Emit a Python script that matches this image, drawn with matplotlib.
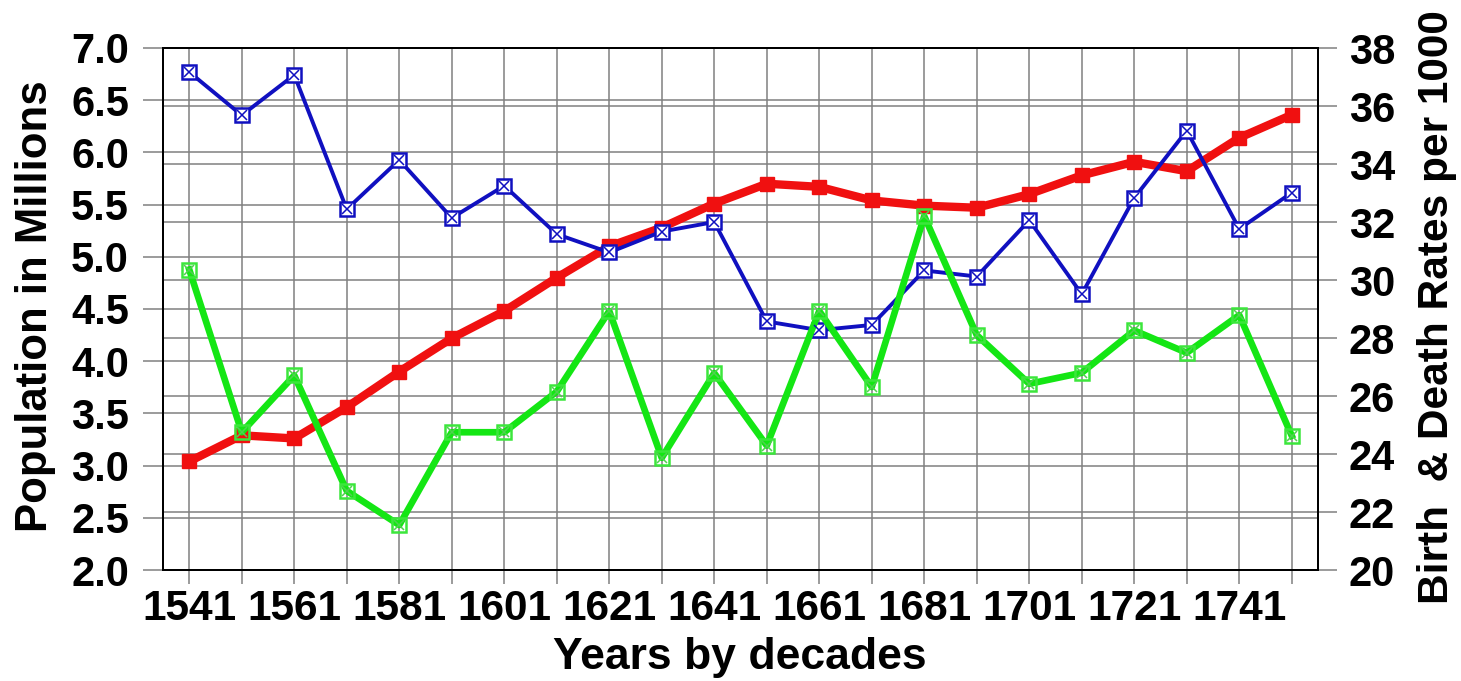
import matplotlib.pyplot as plt

years = [1541, 1551, 1561, 1571, 1581, 1591, 1601, 1611, 1621, 1631, 1641,
         1651, 1661, 1671, 1681, 1691, 1701, 1711, 1721, 1731, 1741, 1751]
year_labels = ['1541', '', '1561', '', '1581', '', '1601', '', '1621', '', '1641',
               '', '1661', '', '1681', '', '1701', '', '1721', '', '1741', '']

population = [3.04, 3.29, 3.26, 3.56, 3.90, 4.22, 4.48, 4.80, 5.10, 5.28, 5.51,
              5.70, 5.67, 5.54, 5.49, 5.47, 5.60, 5.78, 5.91, 5.82, 6.14, 6.36]
birth_rate = [37.17, 35.68, 37.07, 32.44, 34.14, 32.14, 33.25, 31.58, 30.95, 31.67, 32.00,
              28.57, 28.27, 28.45, 30.33, 30.12, 32.06, 29.51, 32.83, 35.15, 31.76, 33.01]
death_rate = [30.36, 24.75, 26.71, 22.73, 21.55, 24.75, 24.75, 26.15, 28.93, 23.87, 26.79,
              24.29, 28.93, 26.31, 32.20, 28.10, 26.42, 26.80, 28.26, 27.49, 28.79, 24.63]

left_ticks = [2.0, 2.5, 3.0, 3.5, 4.0, 4.5, 5.0, 5.5, 6.0, 6.5, 7.0]
right_ticks = [20, 22, 24, 26, 28, 30, 32, 34, 36, 38]

plt.rcParams['font.family'] = ['Liberation Sans', 'DejaVu Sans']
plt.rcParams['font.weight'] = 'bold'

GRID = '#808080'
RED = '#F01010'
BLUE = '#1010C0'
GREEN = '#14E614'

fig = plt.figure(figsize=(14.61, 6.81), dpi=100)
ax1 = fig.add_axes([163 / 1461, 1 - 570 / 681, 1155 / 1461, 522 / 681])
ax2 = ax1.twinx()

ax1.set_xlim(1536, 1756)
ax1.set_ylim(2.0, 7.0)
ax2.set_ylim(20, 38)

# x ticks at every decade, labels every 20 years
ax1.set_xticks(years)
ax1.set_xticklabels(year_labels)
ax1.set_yticks(left_ticks)
ax1.set_yticklabels([f'{v:.1f}' for v in left_ticks])
ax2.set_yticks(right_ticks)
ax2.set_yticklabels([str(v) for v in right_ticks])

# right-axis grid lines drawn on ax1 so they sit under everything
def r2l(r):
    return 2.0 + (r - 20) * 5.0 / 18.0

ax1.set_yticks([r2l(r) for r in right_ticks], minor=True)
ax1.tick_params(axis='y', which='minor', length=0)
ax1.grid(True, which='both', color=GRID, linewidth=1.1)
ax1.set_axisbelow(True)

ax1.tick_params(axis='y', which='major', direction='out', length=14.5, width=1.1,
                color=GRID, labelsize=30, pad=10)
ax1.tick_params(axis='x', direction='out', length=10, width=1.1, color=GRID,
                labelsize=30.5, pad=4)
ax2.tick_params(axis='y', direction='out', length=14, width=1.1, color=GRID,
                labelsize=30, pad=8)

for ax in (ax1, ax2):
    for s in ax.spines.values():
        s.set_color('black')
        s.set_linewidth(1.4)

ax1.plot(years, population, color=RED, linewidth=6, marker='s', markersize=10,
         markerfacecolor=RED, markeredgecolor=RED, zorder=3)

ax2.plot(years, birth_rate, color=BLUE, linewidth=2.8, marker='s', markersize=10,
         markerfacecolor='white', markeredgecolor=BLUE, markeredgewidth=1.8, zorder=3)
ax2.plot(years, birth_rate, linestyle='none', marker='x', markersize=6.5,
         markeredgecolor=BLUE, markeredgewidth=1.1, zorder=4)

ax2.plot(years, death_rate, color=GREEN, linewidth=4.8, marker='s', markersize=10,
         markerfacecolor='none', markeredgecolor='#3CE63C', markeredgewidth=1.8, zorder=3)
ax2.plot(years, death_rate, linestyle='none', marker='x', markersize=6.5,
         markeredgecolor='#50D050', markeredgewidth=1.1, zorder=4)

fig.text(36 / 1461, 1 - 306 / 681, 'Population in Millions', rotation=90,
         ha='center', va='center', fontsize=31.5, fontweight='bold')
fig.text(1437 / 1461, 1 - 307 / 681, 'Birth  & Death Rates per 1000', rotation=90,
         ha='center', va='center', fontsize=30.5, fontweight='bold')
fig.text(740 / 1461, 1 - 658 / 681, 'Years by decades',
         ha='center', va='center', fontsize=32, fontweight='bold')

fig.savefig('out.png', dpi=100)
